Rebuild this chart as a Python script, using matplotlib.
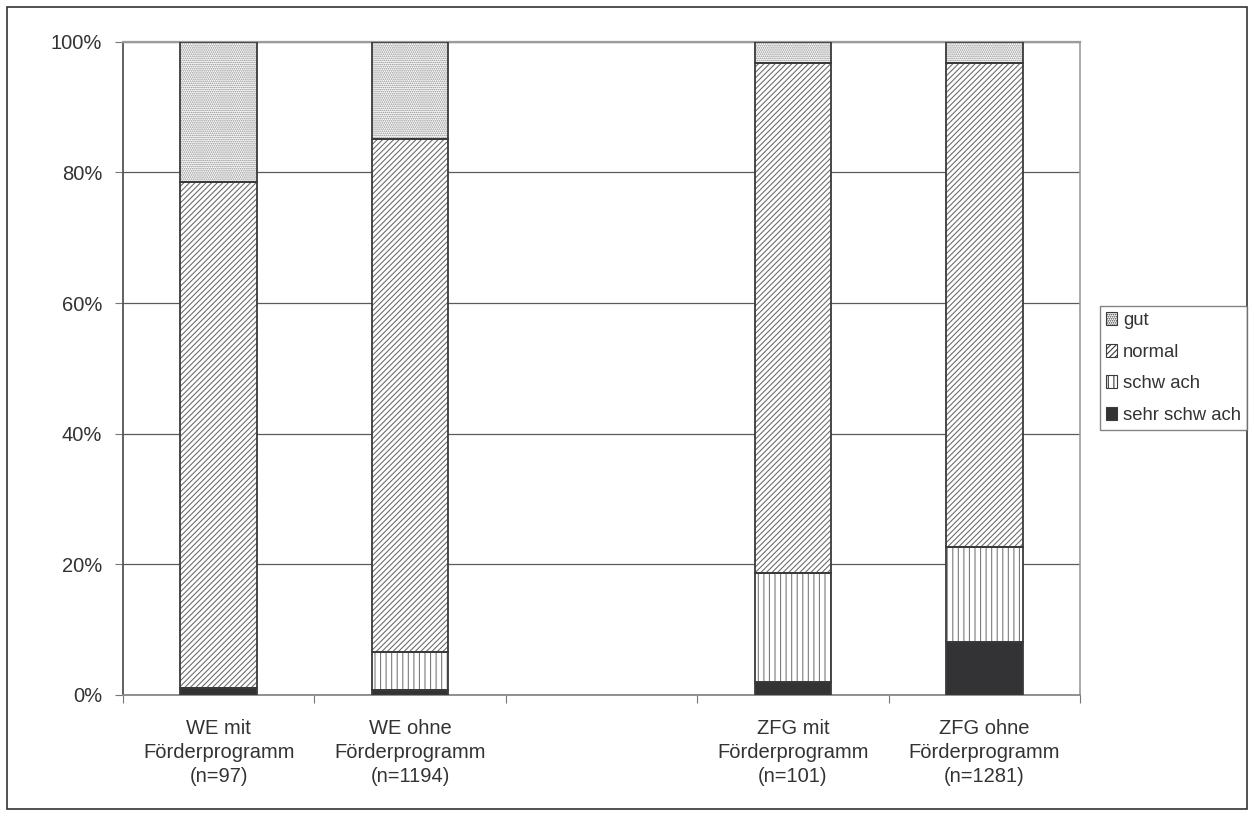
import numpy as np
import matplotlib
matplotlib.use("Agg")
from matplotlib import pyplot as plt
from matplotlib.patches import Patch, Rectangle

categories = ["WE mit\nFörderprogramm\n(n=97)",
              "WE ohne\nFörderprogramm\n(n=1194)",
              "",
              "ZFG mit\nFörderprogramm\n(n=101)",
              "ZFG ohne\nFörderprogramm\n(n=1281)"]

# Anteile in Prozent (mittlere Kategorie ist leer)
sehr_schwach = [1.0, 0.8, np.nan, 2.0, 8.1]
schwach = [0.0, 5.8, np.nan, 16.6, 14.6]
normal = [77.5, 78.5, np.nan, 78.2, 74.0]
gut = [21.5, 14.9, np.nan, 3.2, 3.3]

series = ["sehr schw ach", "schw ach", "normal", "gut"]
werte = [sehr_schwach, schwach, normal, gut]
hatches = [None, "|||", "//////", "........"]
fills = ["#333336", "white", "white", "white"]
hatch_cols = ["#333336", "#7a7a7a", "#6e6e6e", "#8a8a8a"]

plt.rcParams["font.family"] = ["Liberation Sans", "DejaVu Sans"]
plt.rcParams["hatch.linewidth"] = 0.8

fig = plt.figure(figsize=(12.54, 8.16), dpi=100)
ax = fig.add_axes([123/1254, 1-695/816, (1080-123)/1254, (695-41.7)/816])

x = np.arange(len(categories))
bottom = np.zeros(len(categories))
for name, vals, h, fc, hc in zip(series, werte, hatches, fills, hatch_cols):
    vals = np.array(vals)
    ax.bar(x, vals, 0.4, bottom=bottom, color=fc, hatch=h,
           edgecolor=hc, linewidth=0, zorder=3)
    ax.bar(x, vals, 0.4, bottom=bottom, fill=False,
           edgecolor="#3a3a3a", linewidth=1.3, zorder=4)
    bottom = bottom + np.nan_to_num(vals)

ax.set_xlim(-0.5, len(categories) - 0.5)
ax.set_ylim(0, 100)
ax.set_yticks(np.arange(0, 101, 20))
ax.set_yticklabels([f"{v}%" for v in range(0, 101, 20)])
ax.grid(axis="y", color="#5a5a5a", linewidth=0.9, zorder=0)

ax.set_xticks(np.arange(-0.5, len(categories)), labels=[])
ax.set_xticks(x, labels=categories, minor=True)
ax.tick_params(axis="x", which="minor", length=0, pad=17, labelsize=14.5,
               labelcolor="#333333")
ax.tick_params(axis="x", which="major", length=6, color="#777777")
ax.tick_params(axis="y", length=6, pad=9, labelsize=14.5, color="#777777",
               labelcolor="#333333")
for lab in ax.get_xticklabels(minor=True):
    lab.set_linespacing(1.36)

ax.spines["top"].set_color("#a09a9a")
ax.spines["top"].set_linewidth(1.6)
ax.spines["right"].set_color("#a09a9a")
ax.spines["right"].set_linewidth(1.2)
ax.spines["left"].set_color("#555555")
ax.spines["left"].set_linewidth(1.3)
ax.spines["bottom"].set_color("#888888")
ax.spines["bottom"].set_linewidth(1.3)

handles = [Patch(facecolor=fc, edgecolor="#3a3a3a", hatch=h, linewidth=0.8)
           for h, fc in zip(hatches, fills)]
leg = fig.legend(handles[::-1], series[::-1], loc="center left",
                 bbox_to_anchor=(1100/1254, 1-368/816), fontsize=13.3,
                 frameon=True, fancybox=False, edgecolor="#666666",
                 handlelength=0.6, handleheight=0.7, handletextpad=0.35,
                 labelspacing=0.8, borderpad=0.3, borderaxespad=0)
leg.get_frame().set_linewidth(1.0)
for t in leg.get_texts():
    t.set_color("#333333")

fig.patches.append(Rectangle((7/1254, 7/816), 1-14/1254, 1-14/816,
                             transform=fig.transFigure, fill=False,
                             edgecolor="#333333", linewidth=1.2))

fig.savefig("out.png", dpi=100)
